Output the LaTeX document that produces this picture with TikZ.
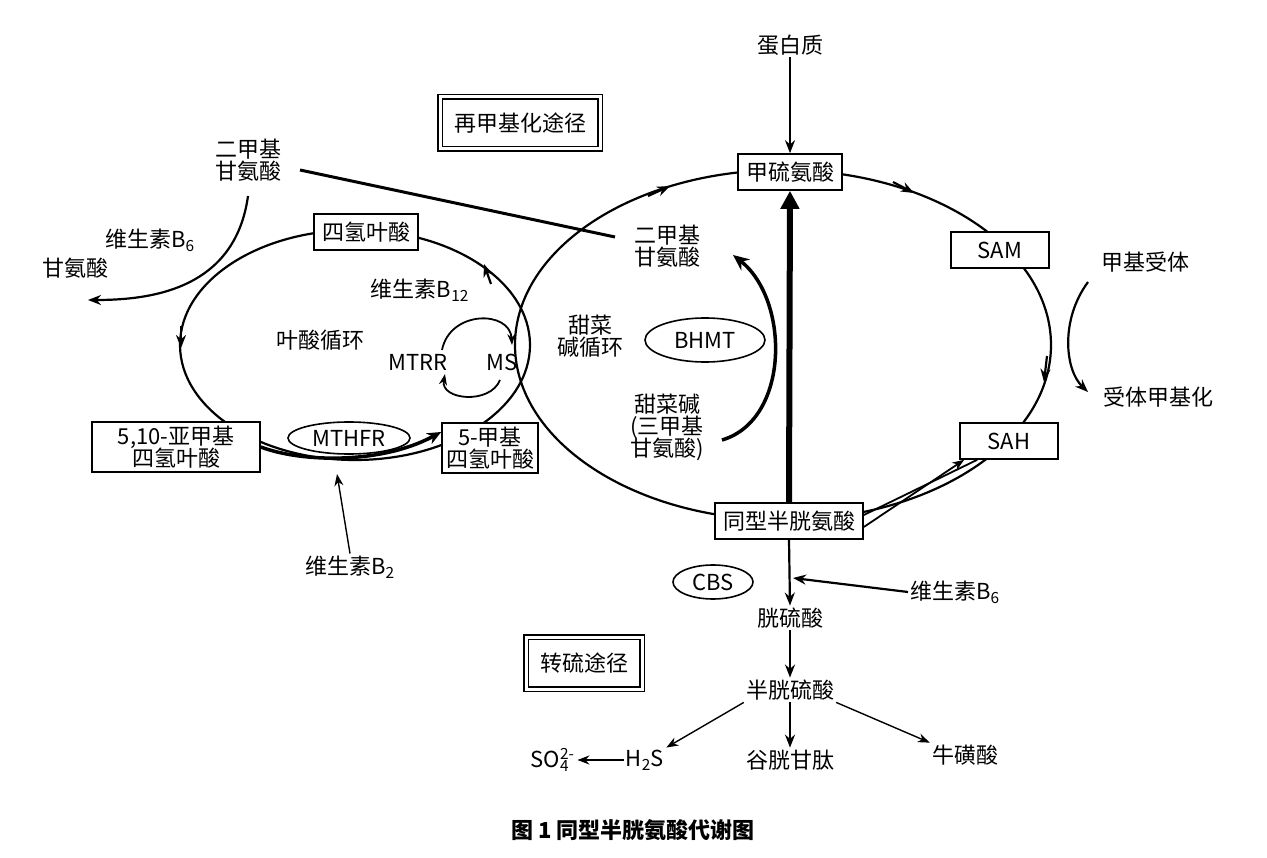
\documentclass[tikz,border=0pt]{standalone}
\usepackage{fontspec}
\setmainfont{Noto Sans CJK SC}
\usetikzlibrary{arrows.meta,shapes.geometric}
\begin{document}
\begin{tikzpicture}[x=1pt,y=-1pt,
  every node/.style={font=\fontsize{22}{26}\selectfont,align=center,inner sep=2pt},
  box/.style={draw,line width=1.6pt,fill=white,minimum height=36pt,inner xsep=8pt},
  dbox/.style={draw,double,double distance=3pt,line width=1.1pt,minimum height=52pt,inner xsep=14pt},
  oval/.style={draw,ellipse,line width=1.6pt,fill=white},
  arr/.style={line width=2.2pt,-{Stealth[length=13pt,width=10pt]}},
  thin/.style={line width=1.4pt,-{Stealth[length=12pt,width=9pt]}}]
\useasboundingbox (0,0) rectangle (1267,858);
% cycles
\draw[line width=2.2pt] (783,345) ellipse [x radius=268,y radius=175];
\draw[line width=2.2pt] (355,345) ellipse [x radius=175,y radius=115];
% direction marks
\draw[arr] (648,196) -- (670,186);
\draw[arr] (893,182) -- (914,193);
\draw[arr] (1047,356) -- (1044,382);
\draw[arr] (181,326) -- (181,348);
\draw[arr] (491,284) -- (484,264);
% boxes
\node[box] (met) at (790,172) {甲硫氨酸};
\node[box,minimum width=98pt] (sam) at (1000,250) {SAM};
\node[box,minimum width=98pt] (sah) at (1009,441) {SAH};
\node[box] (hcy) at (789,521) {同型半胱氨酸};
\node[box] (thf) at (366,232) {四氢叶酸};
\node[box,text width=160pt,inner sep=4pt] (mthf510) at (176,447) {5,10-亚甲基\\[-4pt]四氢叶酸};
\node[box,inner sep=4pt] (mthf5) at (490,448) {5-甲基\\[-4pt]四氢叶酸};
\node[dbox] (remeth) at (520,123) {再甲基化途径};
\node[dbox] (trans) at (584,663) {转硫途径};
\node[oval,minimum width=122pt,minimum height=32pt] (mthfr) at (349,438) {MTHFR};
\node[oval,minimum width=120pt,minimum height=44pt] (bhmt) at (705,340) {BHMT};
\node[oval,minimum width=80pt,minimum height=34pt] (cbs) at (713,582) {CBS};
% texts
\node (prot) at (790,45) {蛋白质};
\node (dmgL) at (248,160) {二甲基\\[-4pt]甘氨酸};
\node (b6L) at (150,240) {维生素B\textsubscript{6}};
\node (gly) at (75,268) {甘氨酸};
\node (b12) at (420,290) {维生素B\textsubscript{12}};
\node (fc) at (320,340) {叶酸循环};
\node (mtrr) at (418,362) {MTRR};
\node (ms) at (502,362) {MS};
\node (b2) at (350,567) {维生素B\textsubscript{2}};
\node (dmgR) at (667,246) {二甲基\\[-4pt]甘氨酸};
\node (bc) at (590,336) {甜菜\\[-4pt]碱循环};
\node (bet) at (667,427) {甜菜碱\\[-4pt](三甲基\\[-4pt]甘氨酸)};
\node (acc) at (1145,262) {甲基受体};
\node (accm) at (1158,397) {受体甲基化};
\node (b6R) at (955,592) {维生素B\textsubscript{6}};
\node (cth) at (790,618) {胱硫酸};
\node (cys) at (790,690) {半胱硫酸};
\node (so4) at (553,760) {SO\rlap{\textsuperscript{2-}}\textsubscript{4}\hspace{6pt}};
\node (h2s) at (645,760) {H\textsubscript{2}S};
\node (gsh) at (790,760) {谷胱甘肽};
\node (tau) at (965,755) {牛磺酸};
\node[font=\bfseries\fontsize{22}{26}\selectfont] (cap) at (633,830) {图 1\ 同型半胱氨酸代谢图};
% connectors
\draw[arr] (prot) -- (met);
\draw[line width=6pt,-{Triangle[length=18pt,width=18pt]}] (hcy.north) -- (met.south);
\draw[arr] (hcy.south) -- (cth.north);
\draw[arr] (b6R.west) -- (793,578);
\draw[arr] (cth) -- (cys);
\draw[arr] (cys) -- (gsh);
\draw[thin] (cys.south west) -- (h2s.north east);
\draw[thin] (cys.south east) -- (tau.north west);
\draw[thin] (h2s) -- (so4);
\draw[line width=3pt] (300,170) -- (615,237);
\draw[arr] (248,196) .. controls (235,290) and (150,300) .. (88,300);
\draw[line width=3.5pt,-{Stealth[length=14pt,width=12pt]}] (mthf510.east) .. controls (300,462) and (380,465) .. ([yshift=16pt]mthf5.west);
\draw[thin] (b2.north) -- (337,474);
\draw[line width=3.5pt,-{Stealth[length=16pt,width=14pt]}] (722,440) .. controls (790,420) and (790,300) .. (733,255);
\draw[arr] (1088,282) .. controls (1060,320) and (1065,370) .. (1088,392);
\draw[line width=1.8pt,-{Stealth[length=12pt,width=9pt]}] ([yshift=-6pt]hcy.east) -- ([xshift=5pt]sah.south west);
\draw[line width=1.8pt] ([yshift=6pt]hcy.east) -- ([xshift=18pt]sah.south west);
\draw[line width=1.8pt,-{Stealth[length=11pt,width=8pt]}] (442,350) .. controls (450,310) and (510,310) .. (512,345);
\draw[line width=1.8pt,-{Stealth[length=11pt,width=8pt]}] (500,380) .. controls (490,405) and (440,400) .. (445,374);
\end{tikzpicture}
\end{document}
